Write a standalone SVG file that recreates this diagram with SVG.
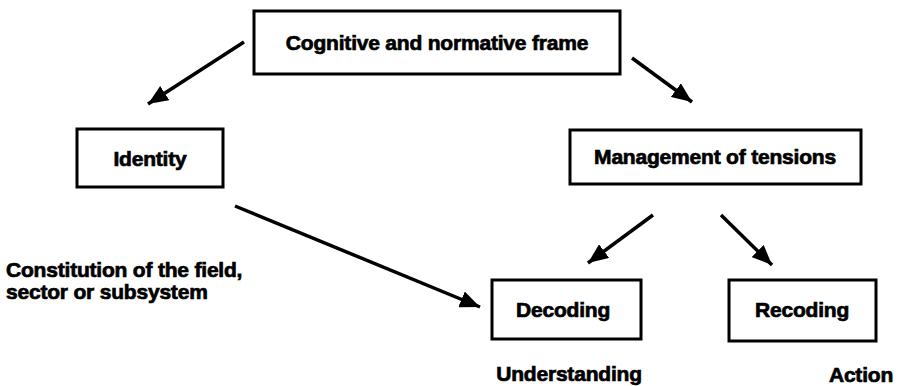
<svg xmlns="http://www.w3.org/2000/svg" width="898" height="386" viewBox="0 0 898 386">
<style>
.box{fill:#fff;stroke:#000;stroke-width:3}
.t{font-family:"Liberation Sans",Arial,sans-serif;font-weight:bold;font-size:21px;fill:#000;stroke:#000;stroke-width:0.7;letter-spacing:-0.2px}
.c{text-anchor:middle}
.ln{stroke:#000;stroke-width:3.5;fill:none;marker-end:url(#ah)}
</style>
<defs>
<marker id="ah" markerUnits="userSpaceOnUse" markerWidth="21" markerHeight="17" refX="20" refY="8.5" orient="auto">
<path d="M0,0 L20,8.5 L0,17 Z" fill="#000"/>
</marker>
</defs>
<rect width="898" height="386" fill="#fff"/>
<g id="connectors">
<line class="ln" x1="244" y1="42" x2="148" y2="104"/>
<line class="ln" x1="632" y1="58" x2="692" y2="102"/>
<line class="ln" x1="235" y1="206" x2="480" y2="307"/>
<line class="ln" x1="653" y1="215" x2="588" y2="263"/>
<line class="ln" x1="721" y1="215" x2="772" y2="265"/>
</g>
<g id="frame">
<rect class="box" x="254" y="11" width="366" height="63"/>
<text class="t c" x="437" y="50">Cognitive and normative frame</text>
</g>
<g id="identity">
<rect class="box" x="77" y="129" width="146" height="58"/>
<text class="t c" x="150" y="166">Identity</text>
</g>
<g id="tensions">
<rect class="box" x="570" y="130" width="291" height="54"/>
<text class="t c" x="715" y="164">Management of tensions</text>
</g>
<g id="decoding">
<rect class="box" x="492" y="280" width="149" height="59"/>
<text class="t c" x="563" y="317">Decoding</text>
</g>
<g id="recoding">
<rect class="box" x="729" y="280" width="147" height="61"/>
<text class="t c" x="802" y="317">Recoding</text>
</g>
<g id="labels">
<text class="t" x="6" y="277">Constitution of the field,</text>
<text class="t" x="6" y="299">sector or subsystem</text>
<text class="t c" x="569" y="381">Understanding</text>
<text class="t c" x="861" y="382">Action</text>
</g>
</svg>
